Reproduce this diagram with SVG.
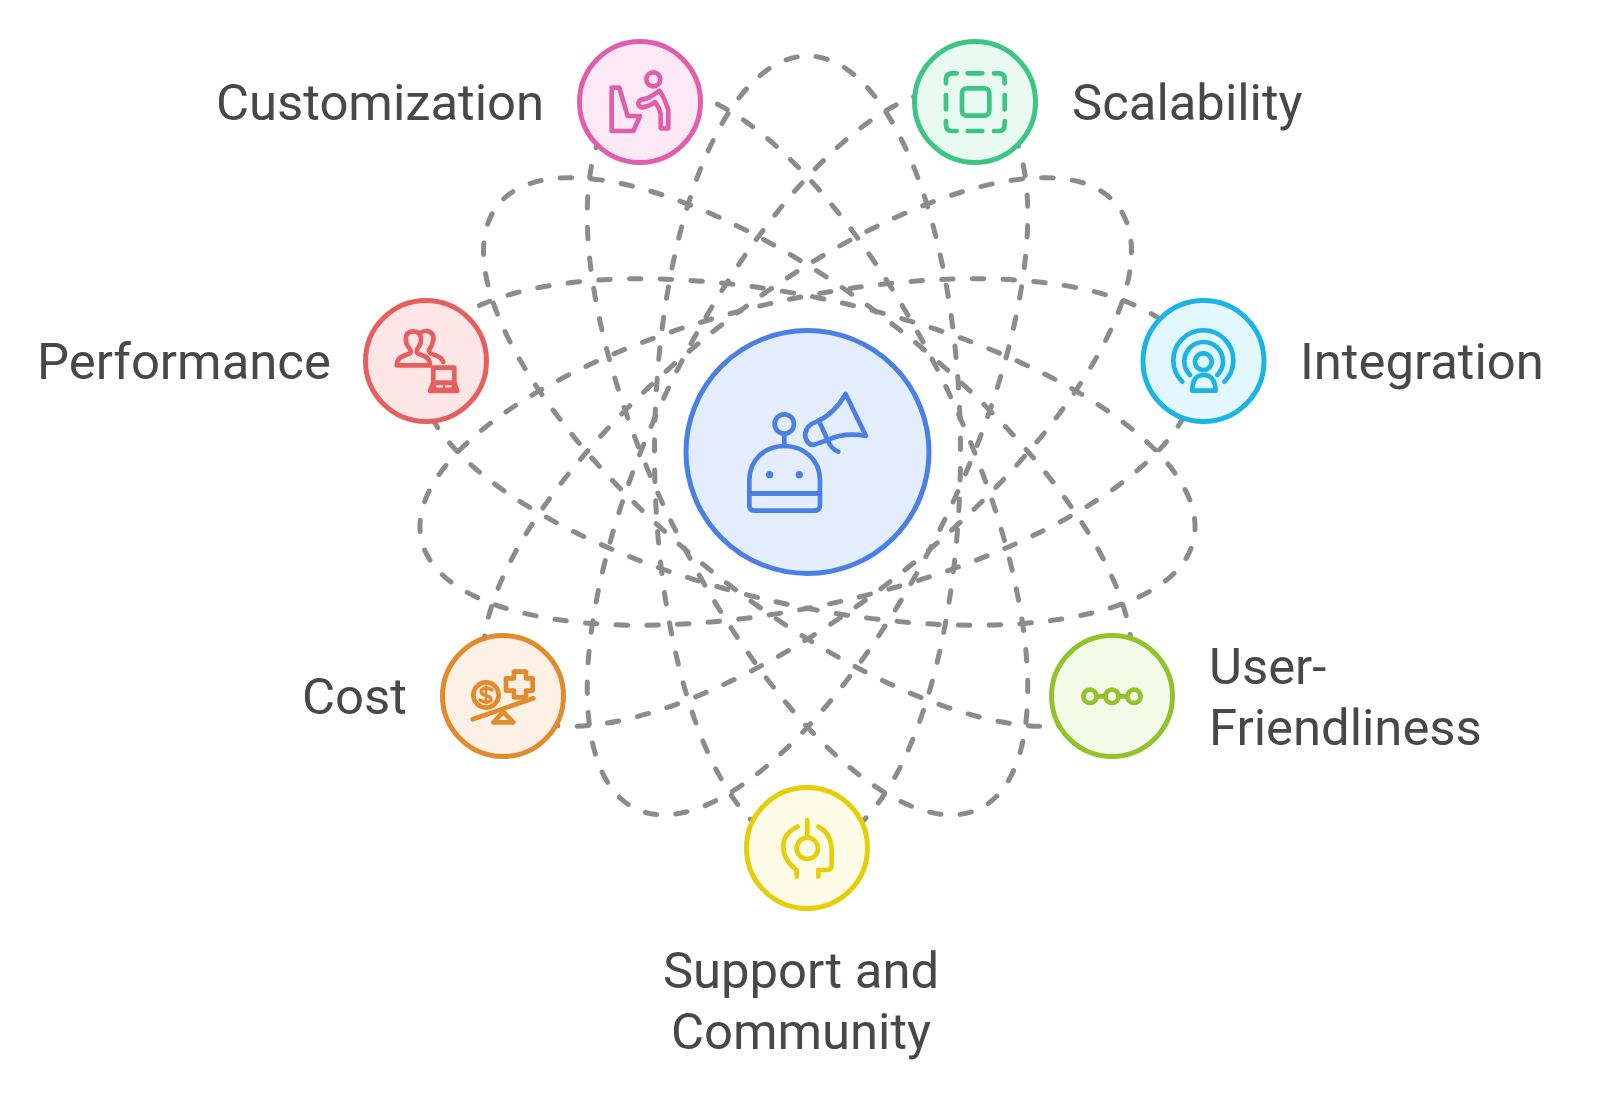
<svg xmlns="http://www.w3.org/2000/svg" width="1600" height="1093" viewBox="0 0 1600 1093">
<style>
text{font-family:Roboto,"Liberation Sans",sans-serif;font-size:50.8px;fill:#484848}
.o{fill:none;stroke:#8c8c8c;stroke-width:5;stroke-dasharray:11.5 19.18;stroke-dashoffset:-23.8;stroke-linecap:round}
.n{stroke-width:5}
.i{fill:none;stroke-width:14;stroke-linecap:round;stroke-linejoin:round}
</style>
<rect width="1600" height="1093" fill="#fff"/>
<g id="connectors">
<ellipse class="o" cx="807.5" cy="452" rx="396" ry="153" transform="rotate(90 807.5 452)"/>
<ellipse class="o" cx="807.5" cy="452" rx="396" ry="153" transform="rotate(141.43 807.5 452)"/>
<ellipse class="o" cx="807.5" cy="452" rx="396" ry="153" transform="rotate(192.86 807.5 452)"/>
<ellipse class="o" cx="807.5" cy="452" rx="396" ry="153" transform="rotate(244.29 807.5 452)"/>
<ellipse class="o" cx="807.5" cy="452" rx="396" ry="153" transform="rotate(295.71 807.5 452)"/>
<ellipse class="o" cx="807.5" cy="452" rx="396" ry="153" transform="rotate(347.14 807.5 452)"/>
<ellipse class="o" cx="807.5" cy="452" rx="396" ry="153" transform="rotate(38.57 807.5 452)"/>
</g>
<g id="center">
<circle class="n" cx="807.5" cy="452" r="121.5" fill="#e3edfd" stroke="#4a80e4"/>
<g class="i" stroke="#4a80e4" transform="translate(660 320) scale(.3333)">
<circle cx="373" cy="312" r="29"/>
<path d="M373 345V378"/>
<path d="M268 520V480C268 420 315 378 373 378C432 378 480 420 480 480V520Z"/>
<path d="M268 520H480V555Q480 572 463 572H285Q268 572 268 555Z"/>
<path d="M557 222L618 348C575 340 535 345 503 360L463 374C445 378 433 355 436 340C438 325 450 312 470 305C505 290 535 260 557 222Z"/>
<path d="M480 310L503 360C510 378 520 390 535 395"/>
<circle cx="329" cy="464" r="8" fill="#4a80e4" stroke-width="6"/>
<circle cx="418" cy="464" r="8" fill="#4a80e4" stroke-width="6"/>
</g>
</g>
<g id="customization">
<circle class="n" cx="640" cy="102" r="60.5" fill="#fde8f5" stroke="#df5fac"/>
<g class="i" stroke="#df5fac" transform="translate(560 30) scale(.3333)">
<circle cx="280" cy="148" r="21"/>
<path d="M155 173H178L203 258H240L220 303H155Z"/>
<path d="M245 208Q262 208 278 196L298 182Q312 200 325 240V295H302V252Q298 232 285 216Q262 232 243 232Q226 220 245 208Z"/>
</g>
<text x="216" y="120">Customization</text>
</g>
<g id="scalability">
<circle class="n" cx="975" cy="102" r="60.5" fill="#e9faf2" stroke="#3cc583"/>
<g class="i" stroke="#3cc583" transform="translate(900 30) scale(.3333)">
<rect x="186" y="175" width="82" height="82" rx="14"/>
<path d="M138 160V148Q138 130 156 130H170"/>
<path d="M203 130H247"/>
<path d="M282 130H296Q314 130 314 148V160"/>
<path d="M314 195V238"/>
<path d="M314 273V285Q314 303 296 303H282"/>
<path d="M247 303H203"/>
<path d="M170 303H156Q138 303 138 285V273"/>
<path d="M138 238V195"/>
</g>
<text x="1072" y="120">Scalability</text>
</g>
<g id="performance">
<circle class="n" cx="426" cy="361" r="60.5" fill="#fee6e6" stroke="#e55f5f"/>
<g class="i" stroke="#e55f5f" transform="translate(350 290) scale(.3333)">
<path d="M140 226Q140 205 160 198L180 190Q185 186 178 175Q165 160 168 140Q172 124 190 124Q208 124 212 140Q216 160 203 175Q198 186 203 190L222 198Q240 205 240 226Z"/>
<path d="M212 128Q225 120 238 125Q252 132 250 150Q248 165 238 178Q235 186 245 192Q275 200 280 216"/>
<path d="M250 284V233H313V284"/>
<path d="M250 278L240 303H322L313 278Z" fill="#e55f5f"/>
<path d="M262 289H276M288 289H302" stroke="#fee6e6" stroke-width="7"/>
</g>
<text x="37" y="379">Performance</text>
</g>
<g id="integration">
<circle class="n" cx="1203.5" cy="361" r="60.5" fill="#e3f7fe" stroke="#1bb4e4"/>
<g class="i" stroke="#1bb4e4" transform="translate(1130 290) scale(.3333)">
<path d="M157 275A90 90 0 1 1 283 275"/>
<path d="M180 255A58 58 0 1 1 262 255"/>
<circle cx="220" cy="215" r="25"/>
<path d="M187 302Q187 255 221 255Q255 255 257 302Z"/>
</g>
<text x="1300" y="379">Integration</text>
</g>
<g id="cost">
<circle class="n" cx="503" cy="696" r="60.5" fill="#fdf0e4" stroke="#e28a2e"/>
<g class="i" stroke="#e28a2e" transform="translate(430 620) scale(.3333)">
<circle cx="168" cy="225" r="38"/>
<path d="M186 210Q168 198 154 210Q150 224 168 226Q186 230 182 242Q168 252 150 240" stroke-width="10"/>
<path d="M168 200V250" stroke-width="8"/>
<path d="M252 155H288V175H308V212H288V232H252V212H228V175H252Z"/>
<path d="M128 298L310 235"/>
<path d="M220 276L250 307H190Z"/>
</g>
<text x="302" y="714">Cost</text>
</g>
<g id="user-friendliness">
<circle class="n" cx="1112" cy="696" r="60.5" fill="#f3fae8" stroke="#93c22d"/>
<g class="i" stroke="#93c22d" transform="translate(1040 620) scale(.3333)">
<circle cx="150" cy="229" r="20"/>
<circle cx="216" cy="229" r="20"/>
<circle cx="282" cy="229" r="20"/>
<path d="M170 229H196M236 229H262"/>
</g>
<text x="1209" y="684">User-</text>
<text x="1209" y="745">Friendliness</text>
</g>
<g id="support">
<circle class="n" cx="807" cy="848" r="60.5" fill="#fefbe6" stroke="#e5cf0a"/>
<g class="i" stroke="#e5cf0a" transform="translate(730 775) scale(.3333)">
<circle cx="232" cy="220" r="32"/>
<path d="M232 135V188"/>
<path d="M203 155Q160 175 160 215Q160 255 200 285V305"/>
<path d="M265 155Q305 175 305 230V270Q305 285 290 285H265V305"/>
</g>
<text x="801" y="988" text-anchor="middle">Support and</text>
<text x="801" y="1049" text-anchor="middle">Community</text>
</g>
</svg>
